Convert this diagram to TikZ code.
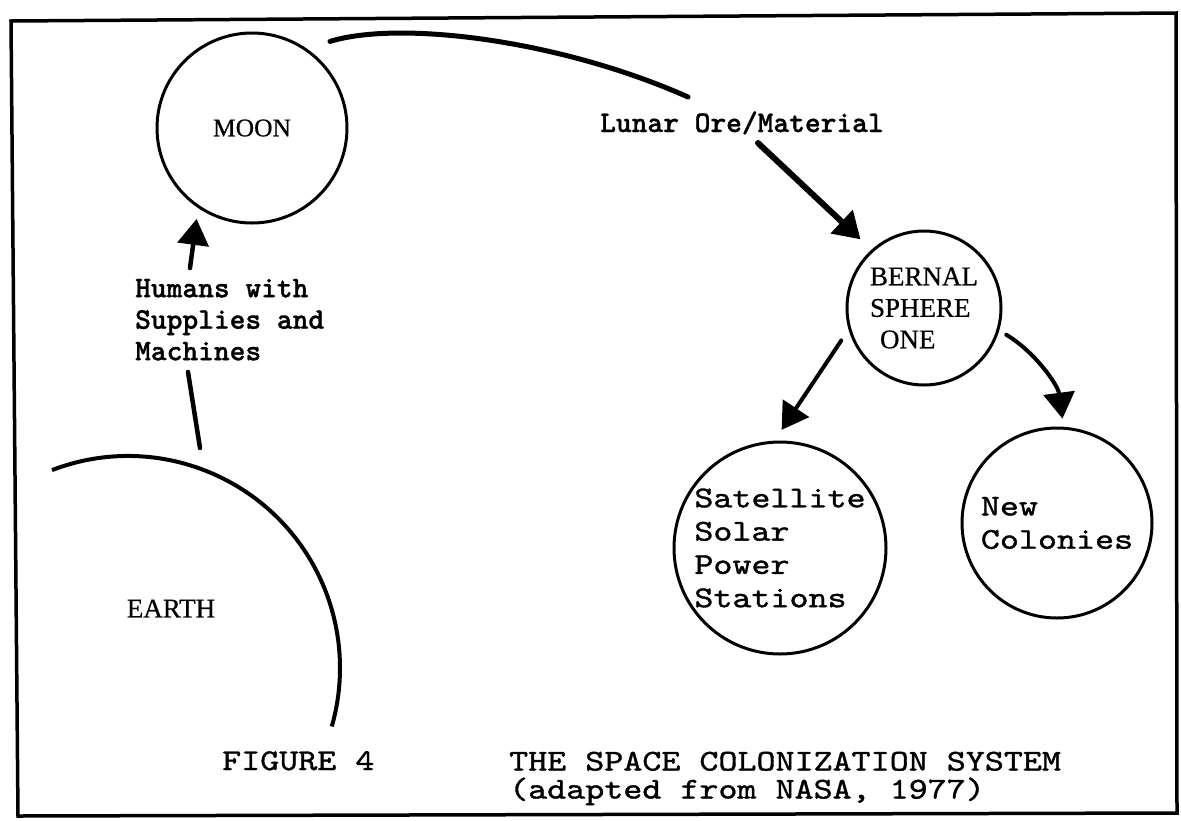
\documentclass[tikz,border=0pt]{standalone}
\usepackage{fontspec}
\setmainfont{Liberation Serif}[FakeBold=0.6]
\newfontfamily\typefont{lmmonolt10-bold.otf}[FakeBold=1]
\newfontfamily\courfont{lmmono10-regular.otf}[FakeStretch=1.2,FakeBold=1.2]
\usetikzlibrary{arrows.meta}
\tikzset{
  body/.style={circle, draw, line width=3pt, inner sep=0pt},
  serif/.style={font=\fontsize{27}{31.5}\selectfont},
  typed/.style={font=\typefont\fontsize{30}{31.5}\selectfont},
  cour/.style={font=\courfont\fontsize{30.2}{33.3}\selectfont},
  conn/.style={line width=4.5pt, line cap=round},
  bigarrow/.style={conn, -{Triangle[length=26pt,width=31pt]}},
  frame/.style={line width=3.5pt, line join=miter},
}
\begin{document}
\begin{tikzpicture}[x=1pt,y=-1pt]
\useasboundingbox[fill=white] (0,0) rectangle (1181,820);
% frame
\draw[frame] (11,21) -- (1176,13) -- (1177,813) -- (18,816) -- cycle;
% bodies
\node[body, minimum size=190pt, font=\fontsize{25.5}{30}\selectfont] (moon) at (252,128) {MOON};
\coordinate (earthc) at (128,668);
\draw[line width=4pt] (earthc) ++(111:212pt) arc[start angle=111,end angle=-16,radius=212pt];
\node[serif] (earth) at (171,608.5) {EARTH};
\node[body, minimum size=154pt, serif, align=left] (bernal) at (924,308) {BERNAL\\SPHERE\\\hspace*{10pt}ONE};
\node[body, minimum size=212pt, cour, align=left] (sat) at (780,548) {Satellite\\Solar\\Power\\Stations};
\node[body, minimum size=190pt, cour, align=left] (col) at (1057,523) {New\\Colonies};
% labels
\node[typed, align=left, anchor=north west, inner sep=0pt] (humans) at (135,278.7) {Humans with\\Supplies and\\Machines};
\node[typed, anchor=base west, inner sep=0pt] (ore) at (600,132) {Lunar Ore/Material};
% connector ends
\coordinate (h0) at (200,448);
\coordinate (h1) at (188,372);
\coordinate (h2) at (190,268);
\coordinate (orein) at (688,97);
\coordinate (oreout) at (758,143);
% connectors
\draw[conn] (h0) -- (h1);
\draw[bigarrow, shorten >=11pt] (h2) -- (moon.236);
\draw[line width=5pt, line cap=round] ([shift={(48:20pt)}]moon.48) .. controls (400,20) and (560,40) .. (orein);
\draw[bigarrow, line width=6pt, shorten >=15pt] (oreout) -- (bernal.132);
\draw[bigarrow, line width=4pt, shorten <=13pt, shorten >=13pt] (bernal.196) -- (sat.93);
\draw[bigarrow, line width=4pt] ([shift={(-18:8pt)}]bernal.-18) .. controls (1035,352) and (1058,385) .. ([shift={(87:8pt)}]col.87);
% captions
\node[cour, anchor=base west, inner sep=0pt] (fig) at (222,770) {FIGURE 4};
\node[font=\courfont\fontsize{30.2}{28}\selectfont, align=left, anchor=north west, inner sep=0pt] (title) at (509,751.5) {THE SPACE COLONIZATION SYSTEM\\(adapted from NASA, 1977)};
\end{tikzpicture}
\end{document}
